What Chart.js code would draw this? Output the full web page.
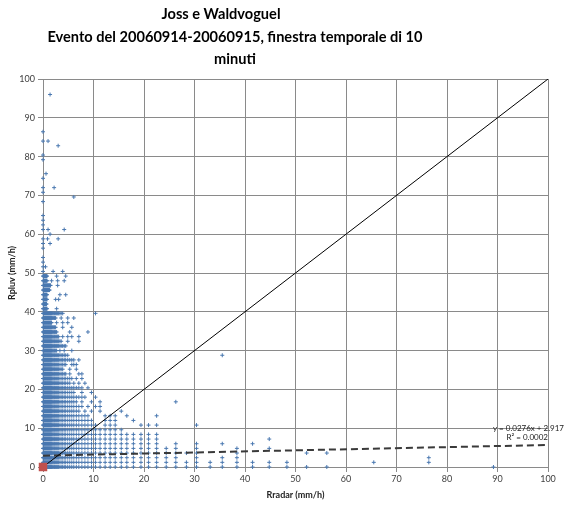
<!DOCTYPE html>
<html>
<head>
<meta charset="utf-8">
<script src="https://cdn.jsdelivr.net/npm/chart.js@4.4.1/dist/chart.umd.min.js"></script>
<style>
  html, body { margin: 0; padding: 0; background: #fff; }
</style>
</head>
<body>
<canvas id="chartJW" width="565" height="506"></canvas>
<script>
const titleLines = ["Joss e Waldvoguel", "Evento del 20060914-20060915, finestra temporale di 10", "minuti"];
const xTitle = "Rradar (mm/h)";
const yTitle = "Rpluv (mm/h)";

// quantised radar rain rates (mm/h) seen as columns in the cloud
const radarLevels = [0, 0.1, 0.2, 0.3, 0.4, 0.5, 0.6, 0.7, 0.8, 0.9, 1.0, 1.1, 1.2, 1.3, 1.4, 1.5, 1.6, 1.7,
    1.85, 2.0, 2.15, 2.3, 2.5, 2.7, 2.9, 3.1, 3.35, 3.6, 3.9, 4.2, 4.5, 4.9, 5.3, 5.7, 6.1, 6.6, 7.1, 7.7,
    8.3, 8.9, 9.6, 10.4, 11.3, 12.3, 13.3, 14.3, 15.5, 16.6, 17.9, 19.4, 20.9, 22.5, 24.4, 26.3, 28.4, 30.4];

// gauge rate, radar extent of the filled run, extra radar values further out
const gaugeRows = [
    [0, 30.4, [33.1, 35.5, 38.4, 41.5, 44.8, 48.3, 52.2, 56.2, 89.2]],
    [1.2, 30.4, [33.1, 35.5, 38.4, 41.5, 44.8, 48.3, 65.5, 76.4]],
    [2.4, 26.3, [30.4, 35.5, 38.4, 76.4]],
    [3.6, 28.4, [30.4, 38.4, 52.2, 56.2]],
    [4.8, 24.4, [26.3, 30.4, 38.4, 44.8]],
    [6.0, 22.5, [26.3, 30.4, 35.5, 41.5]],
    [7.2, 20.9, [22.5, 44.8]],
    [8.4, 19.4, [20.9, 22.5]],
    [9.6, 11.3, [12.3, 13.3, 14.3, 15.5]],
    [10.8, 10.4, [12.3, 13.3, 14.3, 19.4, 20.9, 22.5, 30.4]],
    [12.0, 9.6, [12.3, 13.3, 14.3, 17.9]],
    [13.2, 8.9, [12.3, 13.3, 14.3, 16.6, 22.5]],
    [14.4, 7.1, [8.3, 9.6, 11.3, 15.5]],
    [15.6, 7.7, [8.9, 10.4, 11.3]],
    [16.8, 6.6, [7.7, 9.6, 11.3, 26.3]],
    [18.0, 8.3, [10.4]],
    [19.2, 6.1, [7.7, 9.6]],
    [20.4, 7.7, [8.9]],
    [21.6, 5.3, [6.1, 7.1, 8.3]],
    [22.8, 5.7, [6.6, 7.7]],
    [24.0, 4.5, [5.3, 7.1, 7.7]],
    [25.2, 3.9, [5.3, 6.6]],
    [26.4, 4.5, [5.7, 6.1, 6.6]],
    [27.6, 6.1, [7.1]],
    [28.8, 4.9, [35.5]],
    [30.0, 2.7, [3.35, 4.2, 5.7]],
    [31.2, 4.5, []],
    [32.4, 3.6, [4.9, 7.1]],
    [33.6, 3.1, [3.9, 4.9, 5.7, 7.1]],
    [34.8, 2.7, [5.3, 8.9]],
    [36.0, 2.5, [3.9, 5.7]],
    [37.2, 1.7, [2.7, 3.9, 4.9]],
    [38.4, 2.5, [3.6, 4.9, 6.1]],
    [39.6, 3.9, [10.4]],
    [40.8, 0.8, [2.7]],
    [42.0, 0.7, []],
    [43.2, 0.8, [2.5, 3.1]],
    [44.4, 0.8, [3.35, 4.5]],
    [45.6, 1.3, []],
    [46.8, 1.5, [2.9]],
    [48.0, 0.8, [1.7, 2.9, 4.2]],
    [49.2, 0.8, [2.7, 4.5]],
    [50.4, 0, [2.0, 3.9]]
];

// isolated high gauge readings
const sparseX = [0, 0.5, 0, 0, 0, 0, 1.4, 0, 0.9, 3.0, 1.4, 0, 1.0, 4.2, 0, 0, 0, 0, 6.1, 0, 0, 2.2, 0, 0.6, 0, 0, 3.0, 0, 1.0, 0, 1.4];
const sparseY = [51.6, 51.6, 52.8, 54.0, 56.4, 57.6, 57.6, 58.8, 58.8, 58.8, 60.0, 61.2, 61.2, 61.2, 62.4, 63.6, 64.8, 68.4, 69.6, 70.8, 72.0, 72.0, 74.4, 75.6, 79.2, 80.4, 82.8, 84.0, 84.0, 86.4, 96.0];

// linear fit shown on the chart
const trendA = 0.0276;
const trendB = 2.917;
const trendR2 = "0.0002";

const points = [];
gaugeRows.forEach(function (row) {
    radarLevels.forEach(function (r) {
        if (r <= row[1]) points.push({ x: r, y: row[0] });
    });
    row[2].forEach(function (r) {
        points.push({ x: r, y: row[0] });
    });
});
sparseX.forEach(function (x, i) {
    points.push({ x: x, y: sparseY[i] });
});

const labelFont = "Lato, 'Liberation Sans', sans-serif";

const overlayText = {
    id: "overlayText",
    afterDraw: function (chart) {
        const ctx = chart.ctx;
        const xs = chart.scales.x;
        const ys = chart.scales.y;
        ctx.save();
        ctx.fillStyle = "#000";
        ctx.font = "bold 14.6px " + labelFont;
        ctx.textAlign = "center";
        ctx.textBaseline = "middle";
        ctx.fillText(titleLines[0], 221, 14);
        ctx.fillText(titleLines[1], 235, 37);
        ctx.fillText(titleLines[2], 235, 59);

        // trend equation next to the end of the dashed line
        ctx.fillStyle = "#222";
        ctx.font = "8px " + labelFont;
        ctx.textAlign = "right";
        ctx.fillText("y = " + trendA + "x + " + trendB, xs.getPixelForValue(100) + 16, ys.getPixelForValue(10));
        ctx.fillText("R\u00b2 = " + trendR2, xs.getPixelForValue(100), ys.getPixelForValue(7.6));
        ctx.restore();
    }
};

const ctx = document.getElementById("chartJW").getContext("2d");
const chartJW = new Chart(ctx, {
    type: "scatter",
    data: {
        datasets: [
            {
                data: [{ x: 0, y: 0 }],
                pointStyle: "rect",
                pointRadius: 6,
                backgroundColor: "#c0504d",
                borderColor: "#c0504d",
                borderWidth: 0,
                clip: false,
                order: 0,
            },
            {
                data: [{ x: 0, y: 0 }, { x: 100, y: 100 }],
                showLine: true,
                borderColor: "#000",
                borderWidth: 1,
                pointRadius: 0,
                order: 1,
            },
            {
                data: [{ x: 0, y: trendB }, { x: 100, y: trendA * 100 + trendB }],
                showLine: true,
                borderColor: "#3a3a3a",
                borderWidth: 2,
                borderDash: [7, 4],
                pointRadius: 0,
                order: 2,
            },
            {
                data: points,
                pointStyle: "cross",
                pointRadius: 2,
                borderWidth: 1,
                borderColor: "#4a78b0",
                backgroundColor: "#4a78b0",
                clip: false,
                order: 3,
            },
        ],
    },
    options: {
        responsive: false,
        devicePixelRatio: 1,
        animation: false,
        layout: { padding: { top: 79, right: 17, left: 0, bottom: 0 } },
        plugins: {
            legend: { display: false },
            tooltip: { enabled: false },
        },
        scales: {
            x: {
                type: "linear",
                min: 0,
                max: 100,
                ticks: { stepSize: 10, color: "#404040", font: { size: 9, family: labelFont }, padding: 2 },
                grid: { color: "#8a8a8a", tickLength: 5 },
                border: { color: "#8a8a8a" },
                title: { display: true, text: xTitle, color: "#222", font: { size: 9, weight: "bold", family: labelFont }, padding: { top: 2, bottom: 6 } },
                afterFit: function (scale) { scale.height = 39; },
            },
            y: {
                type: "linear",
                min: 0,
                max: 100,
                ticks: { stepSize: 10, color: "#404040", font: { size: 9, family: labelFont }, padding: 3 },
                grid: { color: "#8a8a8a", tickLength: 5 },
                border: { color: "#8a8a8a" },
                title: { display: true, text: yTitle, color: "#222", font: { size: 9, weight: "bold", family: labelFont }, padding: { top: 7, bottom: 2 } },
                afterFit: function (scale) { scale.width = 43; },
            },
        },
    },
    plugins: [overlayText],
});
</script>
</body>
</html>
